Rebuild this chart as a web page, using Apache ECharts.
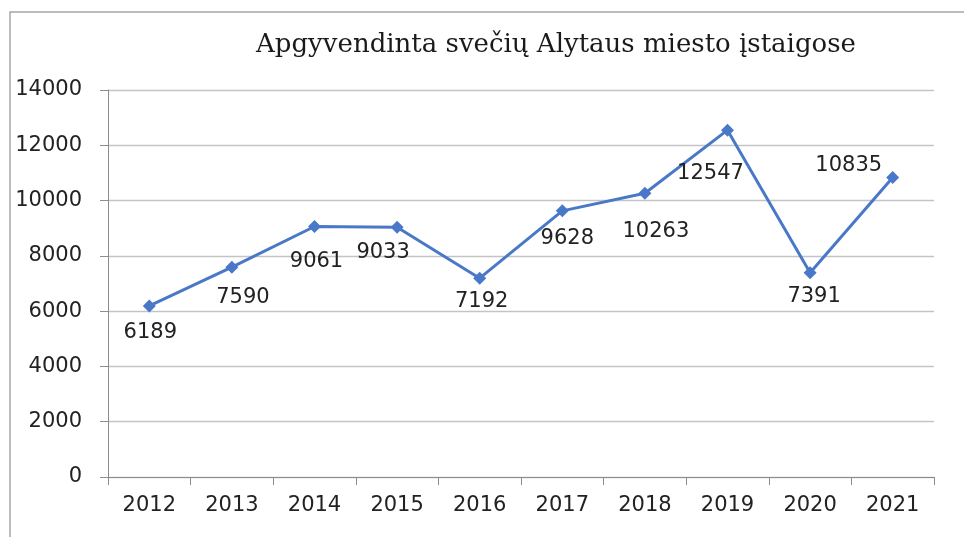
<!DOCTYPE html>
<html><head><meta charset="utf-8">
<script src="https://cdn.jsdelivr.net/npm/echarts@6/dist/echarts.min.js"></script>
<style>html,body{margin:0;padding:0;background:#fff}#c{width:964px;height:537px}</style>
</head><body><div id="c"></div>
<script>
const titleText = 'Apgyvendinta svečių Alytaus miesto įstaigose';
const years = ['2012','2013','2014','2015','2016','2017','2018','2019','2020','2021'];
const guests = [6189, 7590, 9061, 9033, 7192, 9628, 10263, 12547, 7391, 10835];
const labelOffsets = [[1,4],[11,7],[2,12],[-14,2],[2,0],[5,5],[11,15],[-17,20],[4,1],[-44,-35]];

const chart = echarts.init(document.getElementById('c'), null, {renderer:'canvas'});
chart.setOption({
  animation:false,
  backgroundColor:'#fff',
  graphic:[{type:'rect', shape:{x:10,y:12,width:1000,height:600}, style:{fill:'none', stroke:'#a6a6a6', lineWidth:1.5}, silent:true}],
  title:{text:titleText, left:551, textAlign:'center', top:27,
    textStyle:{fontFamily:'DejaVu Serif', fontSize:26, fontWeight:'normal', color:'#1a1a1a'}},
  grid:{left:108, right:30, top:90, bottom:60},
  xAxis:{type:'category', data:years, boundaryGap:true,
    axisLine:{lineStyle:{color:'#8c8c8c'}},
    axisTick:{show:true, length:8, interval:0, lineStyle:{color:'#8c8c8c'}},
    axisLabel:{margin:18, fontFamily:'DejaVu Sans', fontSize:21, color:'#222'}},
  yAxis:{type:'value', min:0, max:14000, interval:2000,
    axisLine:{show:true, lineStyle:{color:'#8c8c8c'}},
    axisTick:{show:true, length:8, lineStyle:{color:'#8c8c8c'}},
    splitLine:{lineStyle:{color:'#c4c4c4', width:1.3}},
    axisLabel:{margin:26, fontFamily:'DejaVu Sans', fontSize:21, color:'#222', formatter:v=>String(v)}},
  series:[{type:'line', data:guests.map((v,i)=>({value:v, label:{offset:labelOffsets[i]}})),
    symbol:'diamond', symbolSize:13,
    lineStyle:{color:'#4a78c8', width:3},
    itemStyle:{color:'#4a78c8'},
    label:{show:true, position:'bottom', distance:6, fontFamily:'DejaVu Sans', fontSize:21, color:'#222'}}]
});
</script></body></html>
